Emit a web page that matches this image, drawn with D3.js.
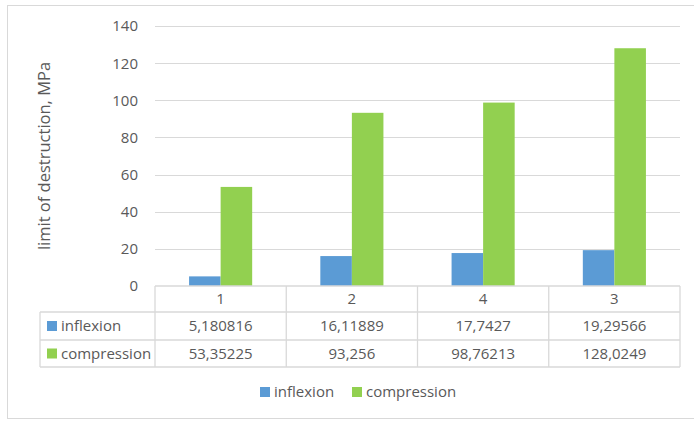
<!DOCTYPE html>
<html><head><meta charset="utf-8">
<script src="https://cdn.jsdelivr.net/npm/d3@7"></script>
<style>body{margin:0;background:#fff}svg{display:block}text{font-family:"Open Sans",sans-serif;fill:#595959}</style>
</head><body><svg id="c" width="694" height="421"></svg>
<script>
const categories = ["1","2","4","3"];
const seriesNames = ["inflexion","compression"];
const inflexion = [5.180816, 16.11889, 17.7427, 19.29566];
const compression = [53.35225, 93.256, 98.76213, 128.0249];
const inflexionLabels = ["5,180816","16,11889","17,7427","19,29566"];
const compressionLabels = ["53,35225","93,256","98,76213","128,0249"];
const yTicks = [0,20,40,60,80,100,120,140];
const yLabel = "limit of destruction, MPa";
const colors = ["#5B9BD5","#92D050"];

const svg = d3.select("#c");
const fs = 15;
// outer border
svg.append("rect").attr("x",7.5).attr("y",5.5).attr("width",694).attr("height",413).attr("fill","none").attr("stroke","#D9D9D9");

const L=155, R=680, T=26, B=286;
const x = d3.scaleBand().domain(categories).range([L,R]).paddingInner(0).paddingOuter(0);
const y = d3.scaleLinear().domain([0,140]).range([B,T]);
const x1 = d3.scaleBand().domain(seriesNames).range([0,x.bandwidth()]).paddingInner(0).paddingOuter(1.08);

// gridlines
svg.append("g").selectAll("line").data(yTicks.filter(d=>d>0)).join("line")
  .attr("x1",L).attr("x2",R).attr("y1",d=>Math.round(y(d))+0.5).attr("y2",d=>Math.round(y(d))+0.5)
  .attr("stroke","#D9D9D9").attr("stroke-width",1);
// y tick labels
svg.append("g").selectAll("text").data(yTicks).join("text")
  .attr("x",138).attr("y",d=>y(d)).attr("dy","0.36em").attr("text-anchor","end")
  .attr("font-size",fs).text(d=>d);
// y label
svg.append("text").attr("transform",`translate(50,${(T+B)/2}) rotate(-90)`)
  .attr("text-anchor","middle").attr("font-size",16.5).text(yLabel);

// bars
const data = [inflexion, compression];
data.forEach((vals,si)=>{
  svg.append("g").selectAll("rect").data(vals).join("rect")
    .attr("x",(d,i)=>x(categories[i])+x1(seriesNames[si]))
    .attr("width",x1.bandwidth())
    .attr("y",d=>y(d)).attr("height",d=>B-y(d))
    .attr("fill",colors[si]);
});

// data table
const lc = "#D9D9D9";
const g = svg.append("g").attr("stroke",lc).attr("stroke-width",1.3);
g.append("line").attr("x1",L).attr("x2",R).attr("y1",B).attr("y2",B);
[312,340,367].forEach(yy=>g.append("line").attr("x1",40).attr("x2",R).attr("y1",yy).attr("y2",yy));
g.append("line").attr("x1",40).attr("x2",40).attr("y1",312).attr("y2",367);
categories.forEach(c=>g.append("line").attr("x1",x(c)).attr("x2",x(c)).attr("y1",B).attr("y2",367));
g.append("line").attr("x1",R).attr("x2",R).attr("y1",B).attr("y2",367);

svg.append("g").selectAll("text").data(categories).join("text")
  .attr("x",d=>x(d)+x.bandwidth()/2).attr("y",(B+312)/2).attr("dy","0.36em")
  .attr("text-anchor","middle").attr("font-size",fs).text(d=>d);
const labelRows = [inflexionLabels, compressionLabels];
const rowMid = [(312+340)/2, (340+367)/2];
labelRows.forEach((labs,si)=>{
  svg.append("g").selectAll("text").data(labs).join("text")
    .attr("x",(d,i)=>x(categories[i])+x.bandwidth()/2).attr("y",rowMid[si]).attr("dy","0.36em")
    .attr("text-anchor","middle").attr("font-size",fs).text(d=>d);
  svg.append("rect").attr("x",47).attr("y",rowMid[si]-5).attr("width",10).attr("height",10).attr("fill",colors[si]);
  svg.append("text").attr("x",61).attr("y",rowMid[si]).attr("dy","0.36em").attr("font-size",fs).text(seriesNames[si]);
});

// legend
const legX = [260, 352];
seriesNames.forEach((s,i)=>{
  svg.append("rect").attr("x",legX[i]).attr("y",387).attr("width",10).attr("height",10).attr("fill",colors[i]);
  svg.append("text").attr("x",legX[i]+14).attr("y",392).attr("dy","0.36em").attr("font-size",fs).text(s);
});
</script></body></html>
